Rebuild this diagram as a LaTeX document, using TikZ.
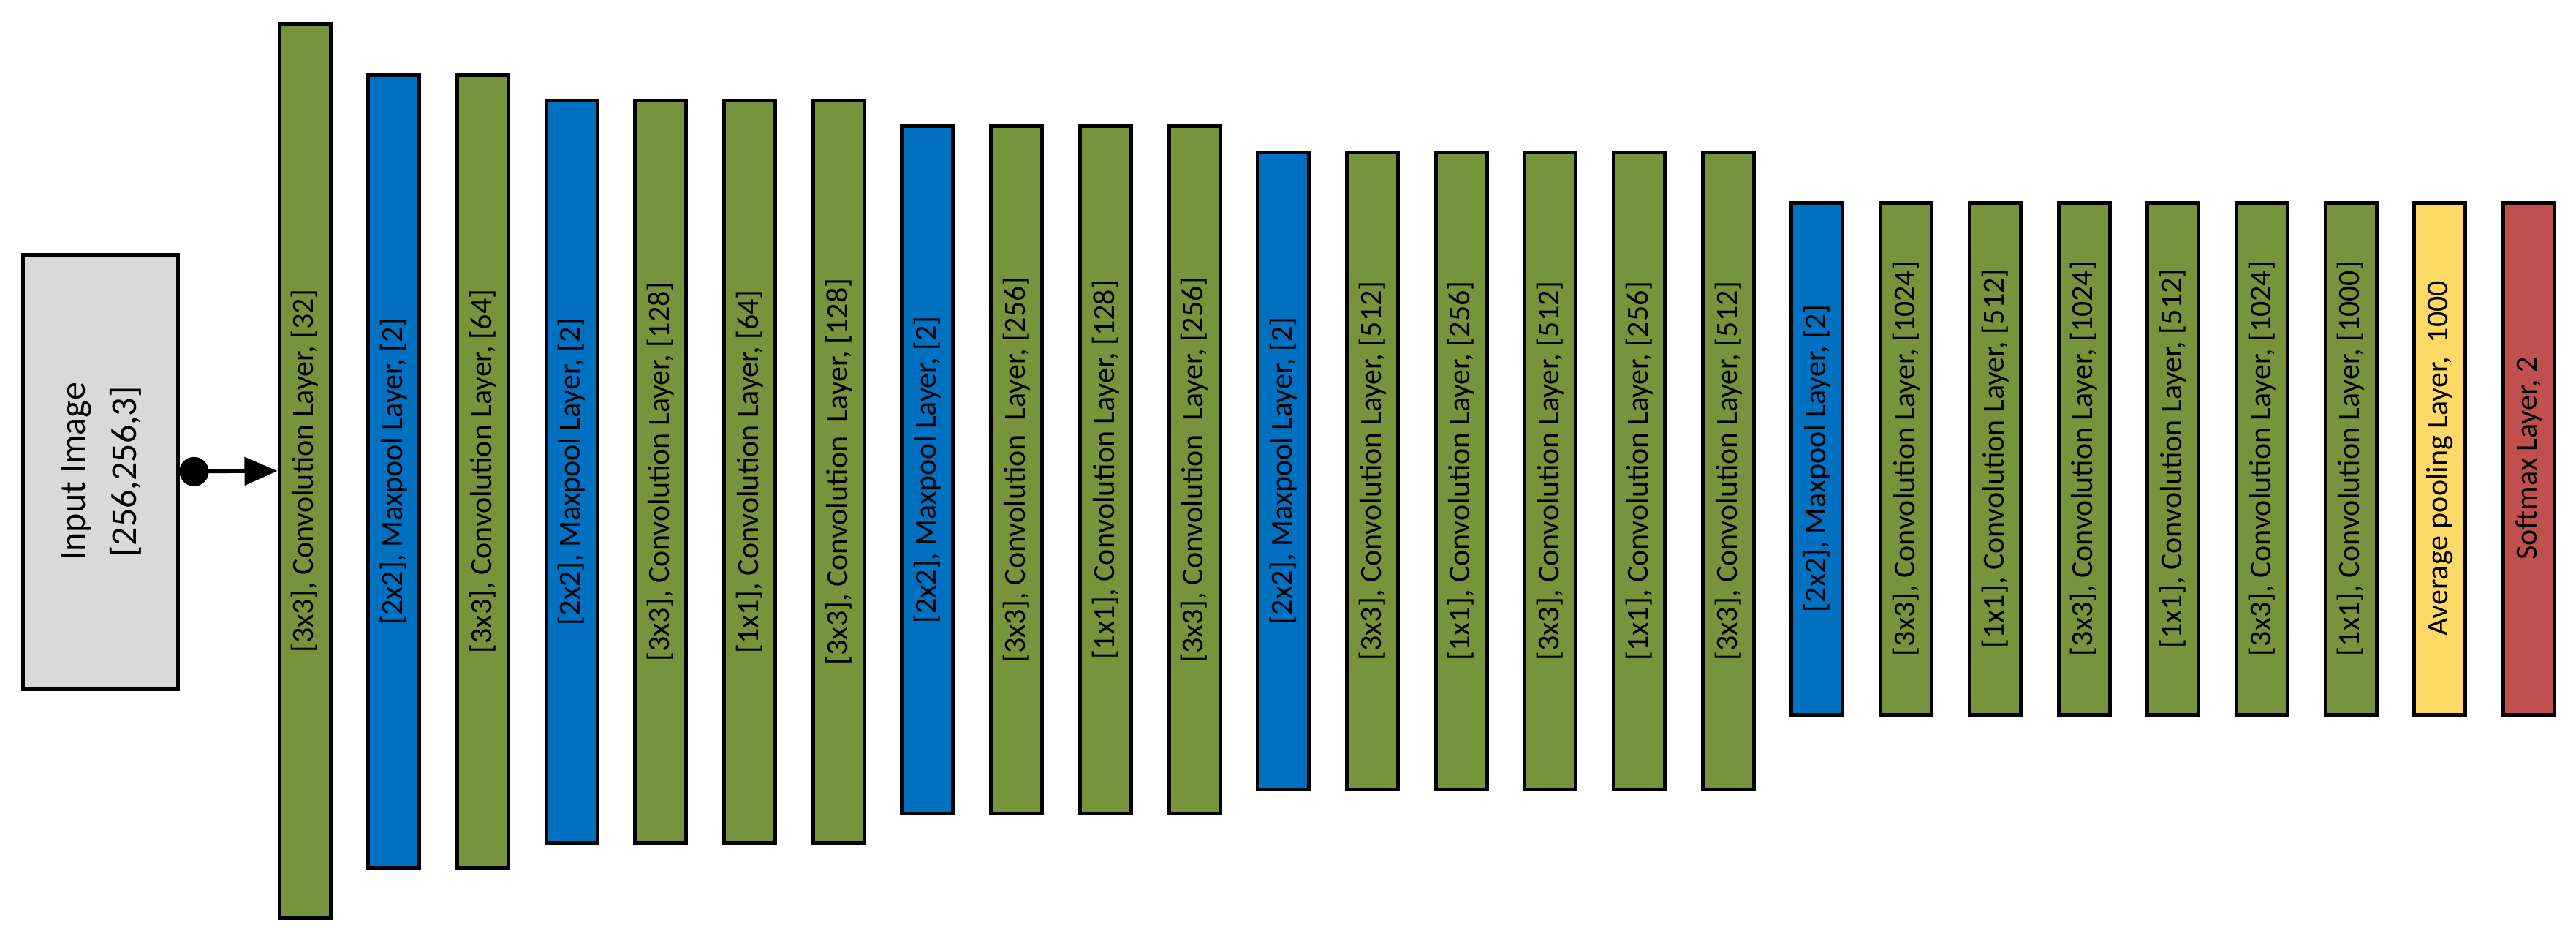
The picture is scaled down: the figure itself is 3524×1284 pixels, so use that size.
\documentclass[tikz,border=0pt]{standalone}
\usepackage{fontspec}
\setmainfont{Carlito}
\usetikzlibrary{arrows.meta}
\definecolor{cgreen}{HTML}{77933C}
\definecolor{cblue}{HTML}{0070C0}
\definecolor{cgray}{HTML}{D9D9D9}
\definecolor{cyel}{HTML}{FFD966}
\definecolor{cred}{HTML}{C0504D}
\newcommand\lay[6]{% name, index, color, top, bottom, text
  \pgfmathsetmacro\lx{417+121.7*#2}
  \pgfmathsetmacro\ly{-(#4+#5)/2}
  \pgfmathsetmacro\lh{#5-#4}
  \node[layer, fill=#3, minimum width=\lh pt] (#1) at (\lx,\ly) {#6};}
\begin{document}
\begin{tikzpicture}[x=1pt,y=1pt,
  layer/.style={draw=black, line width=5pt, rotate=90, minimum height=70pt,
    inner sep=0pt, font=\fontsize{42}{50}\selectfont},
  box/.style={draw=black, line width=5pt, fill=cgray, minimum width=212pt,
    minimum height=594pt, align=center, font=\fontsize{50}{70}\selectfont}]
\useasboundingbox (0,0) rectangle (3524,-1284);
\node[box] (in) at (137,-645) {\rotatebox{90}{\begin{tabular}{c}Input Image\\{}[256,256,3]\end{tabular}}};
\lay{b1}{0}{cgreen}{33}{1255}{[3x3], Convolution Layer, [32]}
\lay{b2}{1}{cblue}{103}{1186}{[2x2], Maxpool Layer, [2]}
\lay{b3}{2}{cgreen}{103}{1186}{[3x3], Convolution Layer, [64]}
\lay{b4}{3}{cblue}{138}{1152}{[2x2], Maxpool Layer, [2]}
\lay{b5}{4}{cgreen}{138}{1152}{[3x3], Convolution Layer, [128]}
\lay{b6}{5}{cgreen}{138}{1152}{[1x1], Convolution Layer, [64]}
\lay{b7}{6}{cgreen}{138}{1152}{[3x3], Convolution~ Layer, [128]}
\lay{b8}{7}{cblue}{173}{1112}{[2x2], Maxpool Layer, [2]}
\lay{b9}{8}{cgreen}{173}{1112}{[3x3], Convolution~ Layer, [256]}
\lay{b10}{9}{cgreen}{173}{1112}{[1x1], Convolution Layer, [128]}
\lay{b11}{10}{cgreen}{173}{1112}{[3x3], Convolution~ Layer, [256]}
\lay{b12}{11}{cblue}{209}{1079}{[2x2], Maxpool Layer, [2]}
\lay{b13}{12}{cgreen}{209}{1079}{[3x3], Convolution Layer, [512]}
\lay{b14}{13}{cgreen}{209}{1079}{[1x1], Convolution Layer, [256]}
\lay{b15}{14}{cgreen}{209}{1079}{[3x3], Convolution Layer, [512]}
\lay{b16}{15}{cgreen}{209}{1079}{[1x1], Convolution Layer, [256]}
\lay{b17}{16}{cgreen}{209}{1079}{[3x3], Convolution Layer, [512]}
\lay{b18}{17}{cblue}{277}{977}{[2x2], Maxpool Layer, [2]}
\lay{b19}{18}{cgreen}{277}{977}{[3x3], Convolution Layer, [1024]}
\lay{b20}{19}{cgreen}{277}{977}{[1x1], Convolution Layer, [512]}
\lay{b21}{20}{cgreen}{277}{977}{[3x3], Convolution Layer, [1024]}
\lay{b22}{21}{cgreen}{277}{977}{[1x1], Convolution Layer, [512]}
\lay{b23}{22}{cgreen}{277}{977}{[3x3], Convolution Layer, [1024]}
\lay{b24}{23}{cgreen}{277}{977}{[1x1], Convolution Layer, [1000]}
\lay{b25}{24}{cyel}{277}{977}{Average pooling Layer,~ 1000}
\lay{b26}{25}{cred}{277}{977}{Softmax Layer, 2}
\draw[line width=5pt, {Circle[length=40pt]}-{Triangle[length=45pt,width=38pt]}]
  (in.east) -- (b1.north);
\end{tikzpicture}
\end{document}
